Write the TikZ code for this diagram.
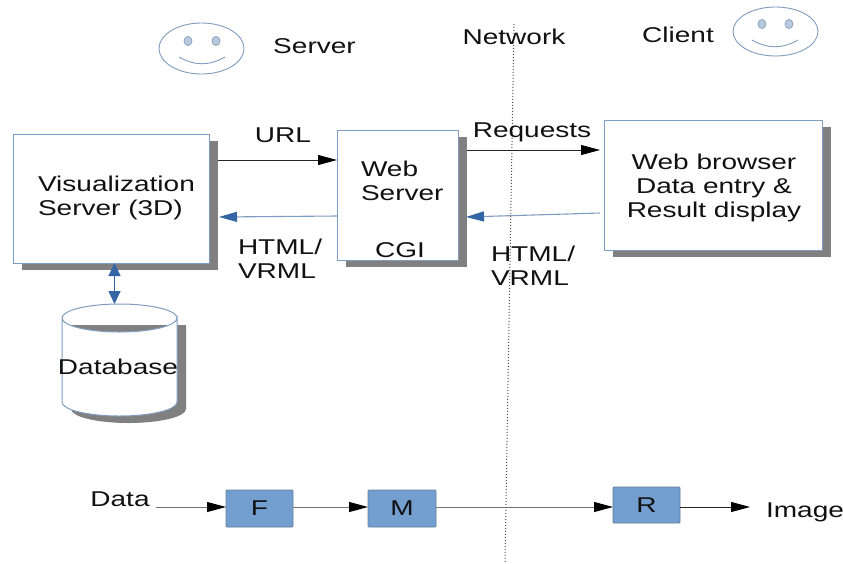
\documentclass[tikz,border=0pt]{standalone}
\usepackage{fontspec}
\setmainfont[FakeStretch=1.31]{Liberation Sans}
\usetikzlibrary{arrows.meta,shadows}
\definecolor{edgeblue}{HTML}{7F9DC0}
\definecolor{tipblue}{HTML}{3465A4}
\definecolor{fillblue}{HTML}{729FCF}
\definecolor{shadowgray}{HTML}{808080}
\definecolor{inktext}{HTML}{111111}
\tikzset{
  x=1pt,y=-1pt,
  every node/.style={inner sep=0pt,outer sep=0pt,text=inktext,font=\fontsize{21.4}{24}\selectfont},
  panel/.style={draw=edgeblue,line width=1pt,fill=white,copy shadow={shadow xshift=9pt,shadow yshift=-7pt,draw=none,fill=shadowgray}},
  block/.style={draw=edgeblue!80!black,line width=.8pt,fill=fillblue,rounded corners=1pt},
  label/.style={align=left,anchor=north west},
  plain/.style={align=center},
  blackarrow/.style={line width=.9pt,draw=black!85,-{Triangle[length=19pt,width=10pt,black]}},
  flowarrow/.style={line width=.9pt,draw=black!55,-{Triangle[length=19pt,width=10pt,black]}},
  bluearrow/.style={line width=1.1pt,draw=edgeblue,-{Triangle[length=18pt,width=10pt,tipblue]}},
  bothblue/.style={line width=1pt,draw=tipblue,{Triangle[length=13pt,width=12pt,tipblue]}-{Triangle[length=13pt,width=12pt,tipblue]}},
  face/.style={draw=edgeblue,line width=.9pt,fill=white},
  eye/.style={draw=edgeblue,line width=.7pt,fill=edgeblue!55},
}
\begin{document}
\begin{tikzpicture}
\useasboundingbox (0,0) rectangle (843,563);
\fill[white] (0,0) rectangle (843,563);
% network divider
\coordinate (nettop) at (514,24);
\coordinate (netbot) at (505,563);
\draw[dotted,line width=1pt,draw=black!70] (nettop) -- (netbot);
% faces
\draw[face] (201.5,48.5) ellipse [x radius=42.5,y radius=25.5];
\draw[eye] (188,41) ellipse [x radius=4,y radius=4.5];
\draw[eye] (216,41) ellipse [x radius=4,y radius=4.5];
\draw[edgeblue,line width=.9pt] (179,57) .. controls (195,66) and (209,66) .. (225,57);
\draw[face] (775.5,31.5) ellipse [x radius=42.5,y radius=24.5];
\draw[eye] (762,24) ellipse [x radius=4,y radius=4.5];
\draw[eye] (789,24) ellipse [x radius=4,y radius=4.5];
\draw[edgeblue,line width=.9pt] (752,40) .. controls (768,49) and (782,49) .. (798,40);
% boxes
\node[panel,minimum width=196pt,minimum height=129pt] (vis) at (111,198.5) {};
\node[panel,minimum width=121pt,minimum height=130pt] (web) at (397.5,195) {};
\node[panel,minimum width=218pt,minimum height=130pt] (browser) at (713,185) {};
% database
\fill[shadowgray] (71,325) -- (71,409) arc[start angle=180,end angle=0,x radius=57.5,y radius=14] -- (186,325) -- cycle;
\draw[edgeblue,line width=1pt,fill=white] (62,318) -- (62,402) arc[start angle=180,end angle=0,x radius=57.5,y radius=14] -- (177,318) arc[start angle=0,end angle=180,x radius=57.5,y radius=14] arc[start angle=180,end angle=360,x radius=57.5,y radius=14];
\node[minimum width=115pt,minimum height=112pt] (db) at (119.5,360) {};
% labels
\node (tserver) at (314.5,46) {Server};
\node (tnetwork) at (514,37) {Network};
\node (tclient) at (678,34.5) {Client};
\node[label] (tvis) at (38,176) {Visualization\\Server (3D)};
\node[label] (tweb) at (361,161) {Web\\Server};
\node (tcgi) at (400,250) {CGI};
\node[plain] (tbrowser) at (714,187.5) {Web browser\\Data entry \&\\Result display};
\node (tdb) at (118,367) {Database};
\node (turl) at (283,135.5) {URL};
\node (treq) at (532,132) {Requests};
\node[label] (th1) at (238,238.5) {HTML/\\VRML};
\node[label] (th2) at (491,245.5) {HTML/\\VRML};
% connectors top
\coordinate (urlstart) at (218,160);
\coordinate (reqstart) at (467,150);
\coordinate (reqend) at (600,150);
\coordinate (h1start) at (337,216);
\coordinate (h1end) at (219,217);
\coordinate (h2start) at (600,213);
\coordinate (h2end) at (466,217);
\draw[blackarrow] (urlstart) -- (web.west |- urlstart);
\draw[blackarrow] (reqstart) -- (reqend);
\draw[bluearrow] (h1start) -- (h1end);
\draw[bluearrow] (h2start) -- (h2end);
\draw[bothblue] (vis.south -| 114.5,0) -- (db.north -| 114.5,0);
% pipeline
\node[block,minimum width=67pt,minimum height=37pt] (f) at (259.5,508.5) {F};
\node[block,minimum width=68pt,minimum height=37pt] (m) at (402,508.5) {M};
\node[block,minimum width=67pt,minimum height=36pt] (r) at (646.5,505) {R};
\node (tdata) at (120,499) {Data};
\node (timage) at (805,512) {Image};
\coordinate (datastart) at (156,507);
\coordinate (imgend) at (750,507);
\draw[flowarrow] (datastart) -- (f.west |- datastart);
\draw[flowarrow] (f.east |- datastart) -- (m.west |- datastart);
\draw[flowarrow] (m.east |- datastart) -- (r.west |- datastart);
\draw[blackarrow] (r.east |- imgend) -- (imgend);
\end{tikzpicture}
\end{document}
